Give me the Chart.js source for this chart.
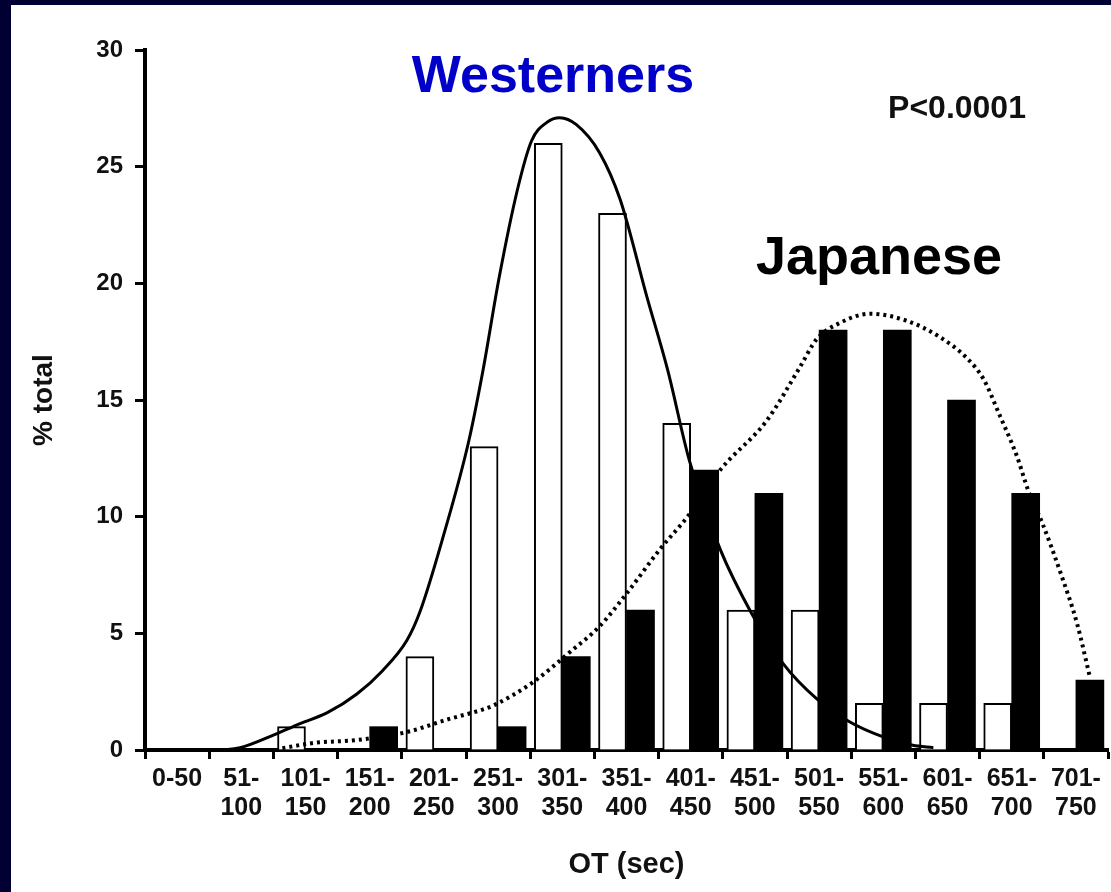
<!DOCTYPE html>
<html>
<head>
<meta charset="utf-8">
<script src="https://cdn.jsdelivr.net/npm/chart.js@4/dist/chart.umd.min.js"></script>
<style>
  html, body { margin: 0; padding: 0; background: #000033; }
  body { width: 1111px; height: 892px; position: relative; overflow: hidden; }
  #wrap { position: absolute; left: 11px; top: 5px; width: 1100px; height: 887px; background: #fff; }
</style>
</head>
<body>
<div id="wrap"><canvas id="otChart" width="1100" height="887"></canvas></div>
<script>
// OT bins (sec)
const otBins = ['0-50', ['51-', '100'], ['101-', '150'], ['151-', '200'], ['201-', '250'],
  ['251-', '300'], ['301-', '350'], ['351-', '400'], ['401-', '450'], ['451-', '500'],
  ['501-', '550'], ['551-', '600'], ['601-', '650'], ['651-', '700'], ['701-', '750']];

// % total per bin
const westernPct = [0, 0, 1, 0, 4, 13, 26, 23, 14, 6, 6, 2, 2, 2, 0];
const japanesePct = [0, 0, 0, 1, 0, 1, 4, 6, 12, 11, 18, 18, 15, 11, 3];

// fitted curves (sec, % total)
const westernCurveSec = [12, 51, 74, 100, 118, 142, 165, 185, 204, 214, 232, 252, 263, 276, 290,
  301, 313, 323, 336, 354, 370, 391, 407, 424, 448, 473, 497, 523, 549, 575, 598, 614];
const westernCurveVal = [0, 0, 0.1, 0.64, 1.07, 1.6, 2.4, 3.4, 4.7, 5.9, 9.1, 13.2, 16.2, 20.3, 24.0,
  26.1, 26.9, 27.1, 26.8, 25.6, 23.6, 19.4, 16.3, 12.4, 8.6, 5.8, 3.7, 2.2, 1.2, 0.56, 0.2, 0.1];
const japaneseCurveSec = [107, 131, 165, 204, 235, 261, 271, 302, 331, 354, 375, 401, 424, 448, 484,
  510, 523, 541, 565, 593, 619, 640, 653, 666, 679, 688, 699, 713, 726, 736];
const japaneseCurveVal = [0.08, 0.3, 0.43, 0.77, 1.3, 1.7, 1.9, 2.9, 4.2, 5.3, 6.7, 8.6, 10.1, 12.0, 14.1,
  16.4, 17.6, 18.3, 18.7, 18.4, 17.7, 16.8, 15.9, 14.3, 12.6, 11.1, 9.7, 7.6, 5.4, 3.1];

const yTicks = [0, 5, 10, 15, 20, 25, 30];

const FONT = '"Liberation Sans", Arial, Helvetica, sans-serif';

// text annotations on the plot
const annotations = {
  id: 'annotations',
  afterDraw(chart) {
    const ctx = chart.ctx;
    ctx.save();
    ctx.textAlign = 'center';
    ctx.textBaseline = 'alphabetic';
    ctx.fillStyle = '#0000c8';
    ctx.font = 'bold 52px ' + FONT;
    ctx.fillText('Westerners', 542, 87);
    ctx.fillStyle = '#000';
    ctx.font = 'bold 54px ' + FONT;
    ctx.fillText('Japanese', 868, 269);
    ctx.fillStyle = '#111';
    ctx.font = 'bold 32px ' + FONT;
    ctx.fillText('P<0.0001', 946, 113);
    ctx.restore();
  }
};

const ctx = document.getElementById('otChart').getContext('2d');
const otChart = new Chart(ctx, {
  type: 'bar',
  data: {
    labels: otBins,
    datasets: [
      {
        type: 'line',
        label: 'Westerners fit',
        data: westernCurveSec.map((s, i) => ({ x: s, y: westernCurveVal[i] })),
        xAxisID: 'xl',
        borderColor: '#000',
        borderWidth: 3,
        pointRadius: 0,
        cubicInterpolationMode: 'monotone',
        order: 0
      },
      {
        type: 'line',
        label: 'Japanese fit',
        data: japaneseCurveSec.map((s, i) => ({ x: s, y: japaneseCurveVal[i] })),
        xAxisID: 'xl',
        borderColor: '#000',
        borderWidth: 4,
        borderDash: [3, 4],
        pointRadius: 0,
        cubicInterpolationMode: 'monotone',
        order: 0
      },
      {
        label: 'Westerners',
        data: westernPct,
        backgroundColor: '#fff',
        borderColor: '#000',
        borderWidth: 2,
        barThickness: 28,
        order: 1
      },
      {
        label: 'Japanese',
        data: japanesePct,
        backgroundColor: '#000',
        borderColor: '#000',
        borderWidth: 0,
        barThickness: 28,
        order: 1
      }
    ]
  },
  options: {
    responsive: false,
    animation: false,
    layout: { padding: { left: 0, top: 45, right: 3, bottom: 0 } },
    plugins: { legend: { display: false }, tooltip: { enabled: false } },
    scales: {
      x: {
        grid: { display: true, drawOnChartArea: false, tickLength: 9, tickWidth: 3, color: '#000', offset: true },
        border: { display: true, color: '#000', width: 4 },
        ticks: { color: '#111', font: { family: FONT, size: 25, weight: 'bold', lineHeight: 1.16 }, padding: 6, maxRotation: 0, autoSkip: false },
        title: { display: true, text: 'OT (sec)', color: '#111', font: { family: FONT, size: 29, weight: 'bold' }, padding: { top: 0, bottom: 10 } },
        afterFit(scale) { scale.height = 142; }
      },
      xl: {
        type: 'linear',
        display: false,
        offset: false,
        grid: { offset: false },
        min: 0,
        max: 750
      },
      y: {
        min: 0,
        max: 30,
        afterBuildTicks(scale) { scale.ticks = yTicks.map(v => ({ value: v })); },
        grid: { display: true, drawOnChartArea: false, tickLength: 10, tickWidth: 3, color: '#000' },
        border: { display: true, color: '#000', width: 4 },
        ticks: { color: '#111', font: { family: FONT, size: 24, weight: 'bold' }, padding: 12 },
        title: { display: true, text: '% total', color: '#111', font: { family: FONT, size: 28, weight: 'bold' }, padding: { top: 16, bottom: 0 } },
        afterFit(scale) { scale.width = 134; }
      }
    }
  },
  plugins: [annotations]
});
</script>
</body>
</html>
